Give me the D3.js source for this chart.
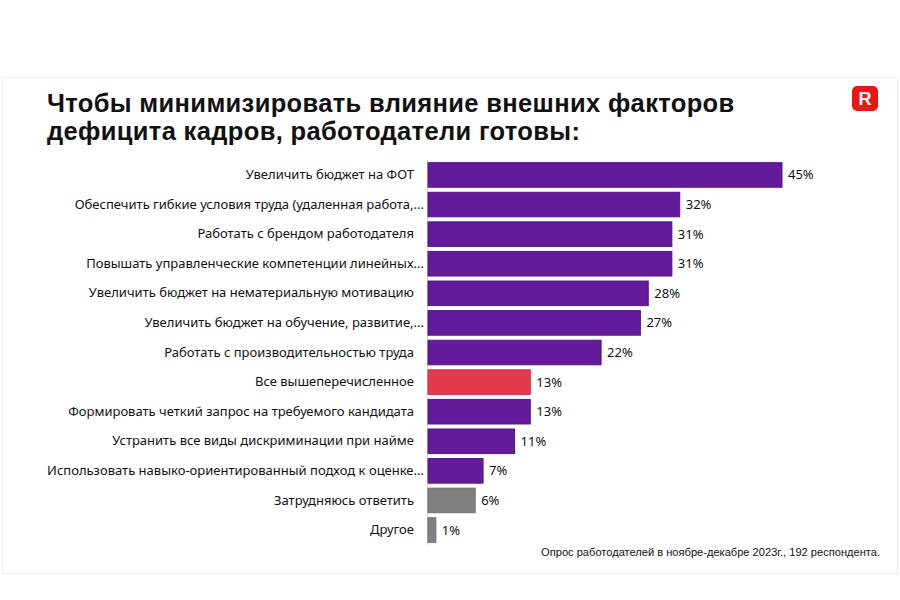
<!DOCTYPE html>
<html><head><meta charset="utf-8">
<script src="https://cdn.jsdelivr.net/npm/d3@7/dist/d3.min.js"></script>
<style>body{margin:0;background:#fff}svg{display:block}</style>
</head><body><svg id="c" width="900" height="600"></svg>
<script>
const categories = [
  "Увеличить бюджет на ФОТ",
  "Обеспечить гибкие условия труда (удаленная работа,...",
  "Работать с брендом работодателя",
  "Повышать управленческие компетенции линейных...",
  "Увеличить бюджет на нематериальную мотивацию",
  "Увеличить бюджет на обучение, развитие,...",
  "Работать с производительностью труда",
  "Все вышеперечисленное",
  "Формировать четкий запрос на требуемого кандидата",
  "Устранить все виды дискриминации при найме",
  "Использовать навыко-ориентированный подход к оценке...",
  "Затрудняюсь ответить",
  "Другое"
];
const values = [45, 32, 31, 31, 28, 27, 22, 13, 13, 11, 7, 6, 1];
const groups = ["main","main","main","main","main","main","main","all","main","main","main","other","other"];
const titleLines = ["Чтобы минимизировать влияние внешних факторов", "дефицита кадров, работодатели готовы:"];
const footnote = "Опрос работодателей в ноябре-декабре 2023г., 192 респондента.";

const fillC = {main:"#631A9B", all:"#E23B4D", other:"#808080"};
const strokeC = {main:"#55148A", all:"#D22A3E", other:"#6E6E6E"};

const svg = d3.select("#c");
// faint slide frame
svg.append("rect").attr("x",2.5).attr("y",77.5).attr("width",895).attr("height",496)
  .attr("fill","none").attr("stroke","#eeeeee");

const x0 = 428;
const x = d3.scaleLinear().domain([0, 45]).range([x0, 782]);
const y = d3.scaleBand().domain(categories).range([160, 545]).paddingInner(0.17).paddingOuter(0.09);

svg.append("g").selectAll("text").data(titleLines).join("text")
  .attr("x", 47).attr("y", (d,i)=>112 + i*28)
  .attr("font-family","'Liberation Sans', Arial, sans-serif").attr("font-weight","bold")
  .attr("font-size",25.5).attr("letter-spacing",0.35).attr("fill","#111").text(d=>d);

// logo
const lg = svg.append("g").attr("transform","translate(852,86)");
lg.append("rect").attr("width",26).attr("height",25).attr("rx",5).attr("fill","#F01515");
lg.append("text").attr("x",13).attr("y",19).attr("text-anchor","middle")
  .attr("font-family","'Liberation Sans', Arial, sans-serif").attr("font-weight","bold")
  .attr("font-size",18).attr("fill","#fff").text("R");

// axis line
svg.append("line").attr("x1",x0-0.5).attr("x2",x0-0.5).attr("y1",y.range()[0]).attr("y2",y.range()[1])
  .attr("stroke","#d9d9d9").attr("stroke-width",1);

svg.append("g").selectAll("rect").data(values).join("rect")
  .attr("x", x0).attr("y",(d,i)=>y(categories[i]))
  .attr("width", d=>x(d)-x0).attr("height", y.bandwidth())
  .attr("fill",(d,i)=>fillC[groups[i]]).attr("stroke",(d,i)=>strokeC[groups[i]]).attr("stroke-width",1);

const yAxis = d3.axisLeft(y).tickSize(0).tickPadding(14);
const ga = svg.append("g").attr("transform",`translate(${x0},0)`).call(yAxis);
ga.select(".domain").remove();
ga.selectAll("text").attr("font-family","'Noto Sans', 'Open Sans', sans-serif").attr("font-size",13).attr("fill","#111")
  .attr("x", d => d.endsWith("...") ? -4 : -14);

svg.append("g").selectAll("text").data(values).join("text")
  .attr("x", d=>x(d)+6).attr("y",(d,i)=>y(categories[i])+y.bandwidth()/2)
  .attr("dy","0.35em").attr("font-family","'Noto Sans', 'Open Sans', sans-serif")
  .attr("font-size",13).attr("fill","#111").text(d=>d+"%");

svg.append("text").attr("x",880).attr("y",556).attr("text-anchor","end")
  .attr("font-family","'Liberation Sans', Arial, sans-serif").attr("font-size",11.1).attr("fill","#111")
  .text(footnote);
</script></body></html>
